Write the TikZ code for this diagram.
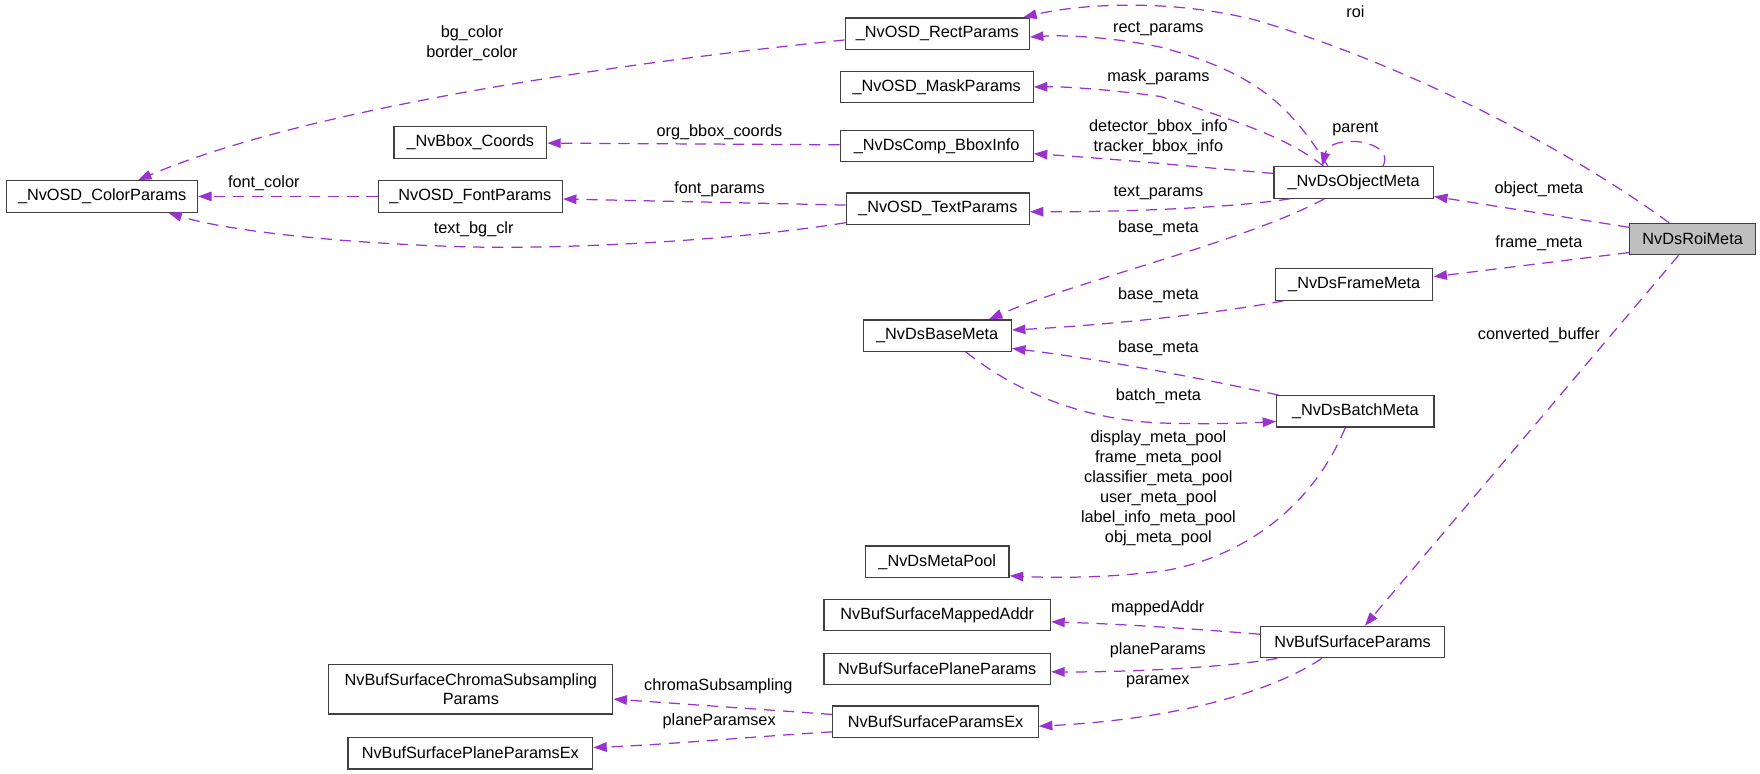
\documentclass[tikz,border=0pt]{standalone}
\usepackage{fontspec}
\setmainfont{Liberation Sans}
\usetikzlibrary{arrows.meta}
\definecolor{edgec}{HTML}{9A32CD}
\definecolor{boxc}{HTML}{404040}
\definecolor{roifill}{HTML}{BFBFBF}
\begin{document}
\begin{tikzpicture}[x=1pt,y=-1pt,
  font=\fontsize{14.5}{17.7}\selectfont,
  cls/.style={draw=boxc, line width=1.1pt, minimum height=28pt, inner sep=0pt, anchor=center, align=center},
  rel/.style={draw=edgec, line width=1.1pt, dash pattern=on 10pt off 7pt, -{Triangle[length=12pt,width=8.5pt]}},
  lbl/.style={inner sep=0pt, align=center, anchor=center}]
\useasboundingbox (0,0) rectangle (1568,689);
% nodes
\node[cls, minimum width=164pt] (rect) at (835,30) {\_NvOSD\_RectParams};
\node[cls, minimum width=172pt] (mask) at (834.5,77.5) {\_NvOSD\_MaskParams};
\node[cls, minimum width=136pt] (bbox) at (419,127) {\_NvBbox\_Coords};
\node[cls, minimum width=172pt] (binfo) at (834.5,130) {\_NvDsComp\_BboxInfo};
\node[cls, minimum width=170pt] (color) at (91,175) {\_NvOSD\_ColorParams};
\node[cls, minimum width=164pt] (font) at (419,175) {\_NvOSD\_FontParams};
\node[cls, minimum width=163pt] (text) at (835.5,186) {\_NvOSD\_TextParams};
\node[cls, minimum width=142pt] (obj) at (1206,162.5) {\_NvDsObjectMeta};
\node[cls, minimum width=112pt, fill=roifill] (roi) at (1508,213) {NvDsRoiMeta};
\node[cls, minimum width=140pt] (frame) at (1206.5,253.5) {\_NvDsFrameMeta};
\node[cls, minimum width=132pt] (base) at (835,299) {\_NvDsBaseMeta};
\node[cls, minimum width=140pt] (batch) at (1207.5,366.5) {\_NvDsBatchMeta};
\node[cls, minimum width=128pt] (pool) at (835,500.5) {\_NvDsMetaPool};
\node[cls, minimum width=202pt] (mapped) at (835,548) {NvBufSurfaceMappedAddr};
\node[cls, minimum width=202pt] (plane) at (835,596) {NvBufSurfacePlaneParams};
\node[cls, minimum width=164pt] (sparams) at (1205,572) {NvBufSurfaceParams};
\node[cls, minimum width=253pt, minimum height=44pt] (chroma) at (419.5,614) {NvBufSurfaceChromaSubsampling\\Params};
\node[cls, minimum width=183pt] (pex) at (833.5,643) {NvBufSurfaceParamsEx};
\node[cls, minimum width=218pt] (ppex) at (419,671) {NvBufSurfacePlaneParamsEx};
% edges
\draw[rel] ([xshift=-21pt]roi.north) .. controls (1400,135) and (1260,60) .. (1119,18) .. controls (1040,-2) and (960,4) .. ([xshift=-6pt]rect.north east);
\draw[rel] ([xshift=-23pt]obj.north) .. controls (1150,95) and (1120,65) .. (1034,42) .. controls (990,33) and (950,31) .. ([yshift=-3pt]rect.east);
\draw[rel] ([xshift=-27pt]obj.north) .. controls (1150,125) and (1110,110) .. (1034,86) .. controls (990,80) and (950,77) .. (mask.east);
\draw[rel] ([yshift=8pt]obj.west) .. controls (1080,150) and (1000,142) .. ([yshift=-7pt]binfo.east);
\draw[rel] ([xshift=15pt]obj.south west) .. controls (1100,185) and (1000,189) .. ([yshift=-2.6pt]text.east);
\draw[rel] ([xshift=-26pt]obj.south) .. controls (1110,215) and (960,250) .. ([xshift=46pt]base.north);
\draw[rel] ([xshift=26pt]obj.north) .. controls (1245,125) and (1185,118) .. ([xshift=-28pt]obj.north);
\draw[rel] ([yshift=10.5pt]roi.west) -- ([yshift=-12.5pt]obj.east);
\draw[rel] ([yshift=-12pt]roi.west) -- ([yshift=7pt]frame.east);
\draw[rel] ([xshift=-12.6pt]roi.south) -- ([xshift=11pt]sparams.north);
\draw[rel] ([yshift=-5.6pt]rect.west) .. controls (650,46) and (300,85) .. ([xshift=32pt]color.north);
\draw[rel] ([yshift=1pt]binfo.west) -- ([yshift=-0.5pt]bbox.east);
\draw[rel] (font.west) -- (color.east);
\draw[rel] ([yshift=3.3pt]text.west) -- ([yshift=-2.3pt]font.east);
\draw[rel] ([yshift=-12.4pt]text.west) .. controls (650,215) and (500,222) .. (420,220) .. controls (300,217) and (200,205) .. ([xshift=59pt]color.south);
\draw[rel] ([xshift=-63pt]frame.south) .. controls (1080,280) and (980,290) .. ([yshift=5pt]base.east);
\draw[rel] ([xshift=2pt]batch.north west) .. controls (1060,335) and (980,320) .. ([yshift=-11.4pt]base.east);
\draw[rel] ([xshift=25.5pt]base.south) .. controls (900,345) and (960,375) .. (1040,377) .. controls (1080,378) and (1110,377) .. ([yshift=-9pt]batch.west);
\draw[rel] ([xshift=-9pt]batch.south) .. controls (1170,450) and (1110,495) .. (1040,508) .. controls (990,515) and (940,515) .. ([yshift=-12.5pt]pool.east);
\draw[rel] ([yshift=7pt]sparams.west) .. controls (1060,560) and (1000,556) .. ([yshift=-6pt]mapped.east);
\draw[rel] ([xshift=15.5pt]sparams.south west) .. controls (1090,595) and (1000,599) .. ([yshift=-2.5pt]plane.east);
\draw[rel] ([xshift=-27.4pt]sparams.south) .. controls (1140,612) and (1060,640) .. ([yshift=-4pt]pex.east);
\draw[rel] ([yshift=6.5pt]pex.west) -- ([yshift=-8.8pt]chroma.east);
\draw[rel] ([yshift=-9pt]pex.west) .. controls (660,657) and (600,663) .. ([yshift=5pt]ppex.east);
% labels
\node[lbl] (l1) at (1207.5,10.4) {roi};
\node[lbl] (l2) at (1032,26) {rect\_params};
\node[lbl] (l3) at (1032,69) {mask\_params};
\node[lbl] (l4) at (1032,122) {detector\_bbox\_info\\tracker\_bbox\_info};
\node[lbl] (l5) at (1032,172) {text\_params};
\node[lbl] (l6) at (1032,203.7) {base\_meta};
\node[lbl] (l7) at (1207.5,115.2) {parent};
\node[lbl] (l8) at (1371,169) {object\_meta};
\node[lbl] (l9) at (1371,217) {frame\_meta};
\node[lbl] (l10) at (1371,298.5) {converted\_buffer};
\node[lbl] (l11) at (420.5,38.6) {bg\_color\\border\_color};
\node[lbl] (l12) at (641,118) {org\_bbox\_coords};
\node[lbl] (l13) at (235,163) {font\_color};
\node[lbl] (l14) at (641,168.7) {font\_params};
\node[lbl] (l15) at (422,204) {text\_bg\_clr};
\node[lbl] (l16) at (1032,262.8) {base\_meta};
\node[lbl] (l17) at (1032,310.4) {base\_meta};
\node[lbl] (l18) at (1032,352.8) {batch\_meta};
\node[lbl] (l19) at (1032,435) {display\_meta\_pool\\frame\_meta\_pool\\classifier\_meta\_pool\\user\_meta\_pool\\label\_info\_meta\_pool\\obj\_meta\_pool};
\node[lbl] (l20) at (1031.5,542) {mappedAddr};
\node[lbl] (l21) at (1031.5,579) {planeParams};
\node[lbl] (l22) at (1031.5,607.4) {paramex};
\node[lbl] (l23) at (640,611) {chromaSubsampling};
\node[lbl] (l24) at (640.7,643) {planeParamsex};
\end{tikzpicture}
\end{document}
